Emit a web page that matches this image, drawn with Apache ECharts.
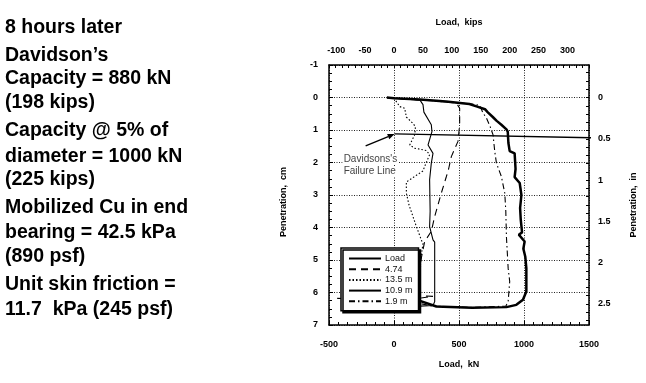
<!DOCTYPE html>
<html>
<head>
<meta charset="utf-8">
<script src="https://cdn.jsdelivr.net/npm/echarts@6/dist/echarts.min.js"></script>
<style>
html,body{margin:0;padding:0;background:#fff;}
#c{width:646px;height:383px;}
</style>
</head>
<body>
<div id="c"></div>
<script>
// ---- data: [load kN, penetration cm] ----
const seriesNames = ['Load', '4.74', '13.5 m', '10.9 m', '1.9 m'];

const loadPts = [[-55,0],[0,0.02],[200,0.06],[400,0.12],[580,0.2],[640,0.28],[700,0.36],[720,0.45],[760,0.6],[790,0.72],[826,0.84],[865,0.98],[875,1.05],[880,1.4],[890,1.65],[928,1.72],[935,2.2],[928,2.45],[967,2.63],[980,3.0],[970,3.4],[975,3.76],[985,4.15],[960,4.22],[1005,4.43],[995,4.65],[1010,4.9],[1018,5.25],[1018,5.97],[992,6.22],[941,6.38],[865,6.45],[600,6.47],[326,6.43],[172,6.22],[100,6.18]];

const g474Pts = [[-55,0],[0,0.02],[300,0.1],[480,0.17],[505,0.33],[505,0.84],[492,1.35],[441,1.82],[420,2.2],[403,2.43],[364,2.94],[313,3.66],[287,4.12],[236,4.43],[210,4.94],[198,5.46],[198,5.97],[200,6.1],[300,6.12],[150,6.2],[-460,6.18]];

const g135Pts = [[-55,0],[0,0.02],[44,0.28],[82,0.33],[95,0.6],[146,0.8],[165,0.9],[159,1.15],[121,1.46],[159,1.56],[249,1.63],[274,1.76],[236,2.12],[223,2.26],[95,2.6],[95,2.94],[115,3.3],[172,3.97],[210,4.38],[223,4.5],[210,4.84],[198,5.46],[185,6.07],[180,6.3],[150,6.4]];

const g109Pts = [[-55,0],[0,0.02],[200,0.08],[223,0.22],[230,0.45],[287,0.84],[292,1.05],[262,1.46],[300,1.72],[287,2.02],[274,2.53],[278,3.5],[274,3.97],[300,4.38],[313,4.45],[313,5.25],[313,6.28],[300,6.4],[200,6.42],[150,6.35]];

const g19Pts = [[-55,0],[0,0.02],[300,0.1],[600,0.2],[660,0.24],[685,0.48],[711,0.63],[740,0.9],[762,1.15],[775,1.66],[788,2.02],[826,2.43],[852,2.94],[860,3.5],[865,4.3],[872,4.8],[878,5.25],[890,5.66],[878,6.28],[860,6.42],[600,6.46],[300,6.42],[150,6.3]];

const failurePts = [[5,1.12],[1913,1.27]];

// tick labels
const kNTicks = [-500, 0, 500, 1000, 1500];
const kipsLabels = [-100, -50, 0, 50, 100, 150, 200, 250, 300];
const cmTicks = [-1, 0, 1, 2, 3, 4, 5, 6, 7];
const inLabels = [0, 0.5, 1, 1.5, 2, 2.5];

const noteLines = [
  ['8 hours later', 28],
  ['Davidson\u2019s', 55.7],
  ['Capacity = 880 kN', 79],
  ['(198 kips)', 103],
  ['Capacity @ 5% of', 130.7],
  ['diameter = 1000 kN', 156.3],
  ['(225 kips)', 179.7],
  ['Mobilized Cu in end', 208],
  ['bearing = 42.5 kPa', 233],
  ['(890 psf)', 256.3],
  ['Unit skin friction =', 284.7],
  ['11.7  kPa (245 psf)', 309.7]
];

const KIP = 4.448, INCH = 2.54;
const FONT = 'Liberation Sans, Arial, sans-serif';

const topTicks = [];
for (let k = -10; k <= 30; k++) topTicks.push(k * 50 / KIP);
const rightTicks = [];
for (let k = -3; k <= 27; k++) rightTicks.push(k / 10);

const plain = function (v) { return String(v); };
const lblStyle = {fontFamily: FONT, fontWeight: 'bold', fontSize: 9, color: '#000', formatter: plain};
const nameStyle = {fontFamily: FONT, fontWeight: 'bold', fontSize: 9, color: '#000'};
const axLine = {show: true, onZero: false, lineStyle: {color: '#000', width: 1.5}};
const split = {show: true, lineStyle: {color: '#222', width: 1, type: [1, 1.5]}};

const chart = echarts.init(document.getElementById('c'), null, {renderer: 'canvas'});

function mk(name, pts, w, dash) {
  return {
    name: name, type: 'line', data: pts, symbol: 'none', xAxisIndex: 0, yAxisIndex: 0,
    lineStyle: {color: '#000', width: w, type: dash}, itemStyle: {color: '#000'},
    animation: false, z: 3
  };
}

const option = {
  animation: false,
  backgroundColor: '#fff',
  grid: {left: 329, top: 65, width: 260, height: 260, containLabel: false},
  xAxis: [
    {
      type: 'value', position: 'bottom', min: -500, max: 1500, interval: 500,
      name: 'Load,  kN', nameLocation: 'middle', nameGap: 35, nameTextStyle: nameStyle,
      axisLine: axLine, axisTick: {show: true, inside: true, length: 4, lineStyle: {color: '#000'}},
      minorTick: {show: true, splitNumber: 7, length: 3, lineStyle: {color: '#000'}},
      axisLabel: Object.assign({margin: 15, customValues: kNTicks}, lblStyle),
      splitLine: split
    },
    {
      type: 'value', position: 'top', min: -500 / KIP, max: 1500 / KIP,
      name: 'Load,  kips', nameLocation: 'middle', nameGap: 38, nameTextStyle: nameStyle,
      axisLine: axLine,
      axisTick: {show: true, inside: true, length: 3, customValues: topTicks, lineStyle: {color: '#000'}},
      axisLabel: Object.assign({margin: 10, customValues: kipsLabels}, lblStyle),
      splitLine: {show: false}
    }
  ],
  yAxis: [
    {
      type: 'value', position: 'left', inverse: true, min: -1, max: 7, interval: 1,
      name: 'Penetration,  cm', nameLocation: 'middle', nameGap: 41,
      nameTextStyle: Object.assign({padding: [0, 14, 0, 0]}, nameStyle),
      axisLine: axLine, axisTick: {show: true, inside: true, length: 4, lineStyle: {color: '#000'}},
      minorTick: {show: true, splitNumber: 4, length: 3, lineStyle: {color: '#000'}},
      axisLabel: Object.assign({margin: 11, customValues: cmTicks}, lblStyle),
      splitLine: split
    },
    {
      type: 'value', position: 'right', inverse: true, min: -1 / INCH, max: 7 / INCH,
      name: 'Penetration,  in', nameLocation: 'middle', nameGap: 40,
      nameTextStyle: Object.assign({padding: [0, 20, 0, 0]}, nameStyle),
      axisLine: axLine,
      axisTick: {show: true, inside: true, length: 3, customValues: rightTicks, lineStyle: {color: '#000'}},
      axisLabel: Object.assign({margin: 9, customValues: inLabels}, lblStyle),
      splitLine: {show: false}
    }
  ],
  legend: {
    data: seriesNames, orient: 'vertical', left: 341, top: 248,
    itemWidth: 32, itemHeight: 8, itemGap: 1.7,
    padding: [6, 6, 5, 7],
    backgroundColor: '#fff', borderColor: '#000', borderWidth: 1.5,
    shadowColor: '#000', shadowBlur: 0, shadowOffsetX: 2, shadowOffsetY: 2,
    itemStyle: {color: 'transparent', borderColor: 'transparent', borderWidth: 0},
    textStyle: {fontFamily: FONT, fontSize: 9, lineHeight: 9, color: '#111', padding: [0, 0, 0, -1]},
    selectedMode: false
  },
  series: [
    mk(seriesNames[0], loadPts, 2.5, 'solid'),
    mk(seriesNames[1], g474Pts, 1.1, [7, 5]),
    mk(seriesNames[2], g135Pts, 1.1, [1.5, 2]),
    mk(seriesNames[3], g109Pts, 1.1, 'solid'),
    mk(seriesNames[4], g19Pts, 1.1, [6, 3, 1.5, 3]),
    {
      name: 'Davidson failure line', type: 'line', data: failurePts, symbol: 'none',
      clip: false, lineStyle: {color: '#000', width: 1.4}, z: 4, animation: false
    }
  ]
};
chart.setOption(option);

// annotations placed via the chart's own coordinate conversion
const p0 = chart.convertToPixel({gridIndex: 0}, failurePts[0]);
const t1 = chart.convertToPixel({gridIndex: 0}, [-395, 1.89]);
const t2 = chart.convertToPixel({gridIndex: 0}, [-395, 2.26]);
const tail = [p0[0] - 29, p0[1] + 12];
const dx = p0[0] - tail[0], dy = p0[1] - tail[1];
const L = Math.sqrt(dx * dx + dy * dy), ux = dx / L, uy = dy / L;
const hl = 7, hw = 2.8;
const base = [p0[0] - ux * hl, p0[1] - uy * hl];

const graphics = [
  {type: 'line', shape: {x1: tail[0], y1: tail[1], x2: base[0], y2: base[1]}, style: {stroke: '#000', lineWidth: 1.4}, z: 10},
  {type: 'polygon', shape: {points: [p0, [base[0] - uy * hw, base[1] + ux * hw], [base[0] + uy * hw, base[1] - ux * hw]]}, style: {fill: '#000'}, z: 10},
  {type: 'text', x: t1[0], y: t1[1], style: {text: 'Davidsons\'s', fontFamily: FONT, fontSize: 10, fill: '#444', verticalAlign: 'middle', backgroundColor: '#fff', padding: [0, 1]}, z: 10},
  {type: 'text', x: t2[0], y: t2[1], style: {text: 'Failure Line', fontFamily: FONT, fontSize: 10, fill: '#444', verticalAlign: 'middle', backgroundColor: '#fff', padding: [0, 1]}, z: 10}
];
noteLines.forEach(function (l) {
  graphics.push({type: 'text', x: 5, y: l[1], style: {text: l[0], fontFamily: FONT, fontWeight: 'bold', fontSize: 19.5, fill: '#000', verticalAlign: 'middle'}, z: 10});
});
chart.setOption({graphic: graphics});
</script>
</body>
</html>
